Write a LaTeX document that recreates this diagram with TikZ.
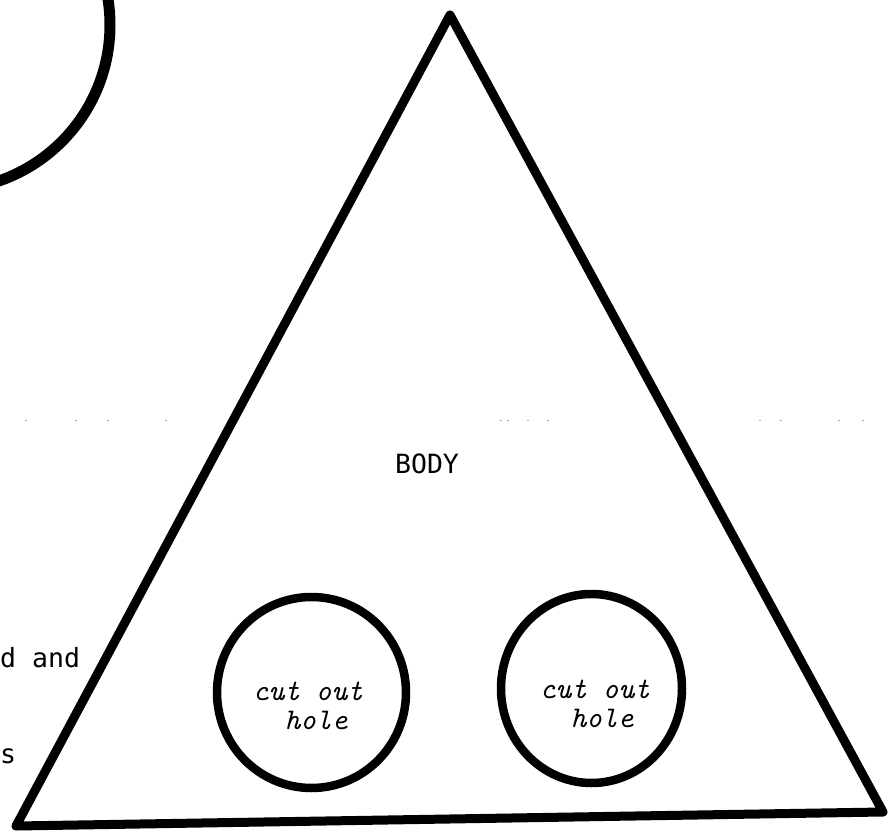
\documentclass[tikz,border=0pt]{standalone}
\usepackage{fontspec}
\newfontfamily\lgfont{DejaVu Sans Mono}
\tikzset{
  thickline/.style={draw=black, line width=9pt, line join=round, line cap=round},
  holeline/.style={draw=black, line width=8.5pt},
  holetext/.style={font=\ttfamily\itshape\fontsize{30}{34}\selectfont, inner sep=0pt, anchor=base},
  lgtext/.style={font=\lgfont\fontsize{26.5}{30}\selectfont, inner sep=0pt},
  specks/.style={fill=black!35, draw=none}
}
\begin{document}
\begin{tikzpicture}[x=1pt,y=-1pt]
\useasboundingbox (0,0) rectangle (889,834);
\fill[white] (0,0) rectangle (889,834);
% big arc, top left
\begin{scope}
  \clip (0,0) rectangle (889,834);
  \draw[line width=11pt] (-55,25) circle[radius=165pt];
\end{scope}
% triangle body
\coordinate (apex) at (450,15);
\coordinate (bl) at (16,826);
\coordinate (br) at (883,812);
\draw[thickline] (apex) -- (br) -- (bl) -- cycle;
% cut out holes
\draw[holeline] (311.5,692.5) ellipse[x radius=94.5pt, y radius=95.5pt];
\draw[holeline] (591.5,688.5) ellipse[x radius=90.5pt, y radius=94.5pt];
\node[holetext] (h1a) at (308,700) {cut out};
\node[holetext] (h1b) at (316,729) {hole};
\node[holetext] (h2a) at (595,698) {cut out};
\node[holetext] (h2b) at (602,727) {hole};
% labels
\node[lgtext, anchor=base] (body) at (427,473) {BODY};
\node[lgtext, anchor=base west] (dand) at (0,667) {d and};
\node[lgtext, anchor=base west] (s) at (0,763) {s};
% faint specks of a fold line
\foreach \x in {25,75,107,165,500,507,527,547,759,780,838,862}
  \fill[specks] (\x,419.5) rectangle ++(2,1.2);
\end{tikzpicture}
\end{document}
